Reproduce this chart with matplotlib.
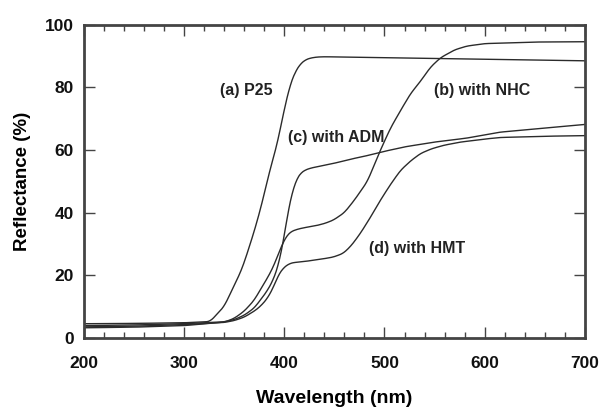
import matplotlib
matplotlib.use("Agg")
import matplotlib.pyplot as plt
from matplotlib.ticker import MultipleLocator
import numpy as np

plt.rcParams.update({
    "font.family": ["Liberation Sans", "DejaVu Sans"],
    "font.weight": "bold",
})

INK = "#2b2b2b"

# diffuse reflectance spectra (wavelength nm, reflectance %)
wl_a = [200, 250, 300, 326, 340, 356, 360, 370, 376, 380, 386, 393, 400, 406, 411, 416, 421, 425, 432, 440, 500, 600, 700]
r_a = [4.5, 4.6, 4.8, 5.2, 10.0, 20.7, 24.0, 34.0, 40.8, 46.0, 54.0, 62.0, 73.0, 81.0, 85.0, 87.5, 88.8, 89.3, 89.7, 89.8, 89.5, 89.0, 88.5]

wl_b = [200, 250, 300, 340, 350, 360, 370, 376, 383, 389, 395, 399, 403, 406, 412, 420, 430, 440, 449, 460, 470, 483, 496, 506, 516, 526, 536, 546, 556, 570, 582, 600, 650, 700]
r_b = [3.2, 3.4, 3.9, 5.0, 6.2, 8.5, 12.0, 15.3, 19.0, 22.6, 27.5, 30.6, 32.8, 33.8, 34.6, 35.2, 35.7, 36.5, 37.6, 40.0, 44.0, 50.0, 60.0, 67.0, 72.6, 78.0, 82.0, 86.5, 89.5, 92.0, 93.2, 94.0, 94.5, 94.6]

wl_c = [200, 250, 300, 340, 350, 360, 370, 376, 383, 389, 394, 398, 401, 404, 408, 412, 416, 420, 426, 435, 449, 465, 480, 496, 520, 549, 582, 615, 650, 700]
r_c = [3.9, 4.1, 4.5, 5.1, 5.8, 7.2, 9.5, 12.0, 15.0, 18.5, 23.0, 29.0, 34.5, 40.8, 46.5, 50.5, 52.5, 53.5, 54.2, 54.8, 55.7, 57.0, 58.0, 59.3, 61.0, 62.5, 63.8, 65.7, 66.7, 68.2]

wl_d = [200, 250, 300, 340, 350, 360, 370, 376, 383, 389, 394, 399, 403, 406, 410, 416, 425, 440, 449, 459, 467, 476, 486, 496, 506, 516, 526, 536, 547, 559, 575, 600, 615, 660, 700]
r_d = [3.5, 3.7, 4.2, 4.9, 5.5, 6.6, 8.5, 10.0, 12.5, 16.0, 20.0, 22.3, 23.3, 23.8, 24.1, 24.2, 24.6, 25.3, 25.8, 27.0, 29.5, 33.4, 38.5, 44.0, 49.0, 53.5, 56.5, 58.9, 60.4, 61.5, 62.5, 63.5, 64.0, 64.4, 64.6]

series = [(wl_a, r_a), (wl_b, r_b), (wl_c, r_c), (wl_d, r_d)]

# curve labels: text and centre position in data units
labels = ["(a) P25", "(b) with NHC", "(c) with ADM", "(d) with HMT"]
label_x = [362, 597, 452, 533]
label_y = [79, 79, 64, 28.6]

fig = plt.figure(figsize=(6.03, 4.07), dpi=100)
ax = fig.add_axes([0.139, 0.170, 0.831, 0.769])

for wl, r in series:
    # smooth the hand-read points a little for drawing
    xs = np.linspace(wl[0], wl[-1], 600)
    ys = np.interp(xs, wl, r)
    k = np.ones(9) / 9
    ys_s = np.convolve(np.pad(ys, 4, mode="edge"), k, mode="valid")
    ax.plot(xs, ys_s, color=INK, lw=1.0)

for t, x, y in zip(labels, label_x, label_y):
    ax.text(x, y, t, fontsize=11.5, fontweight="bold", color="#222222",
            ha="center", va="center")

ax.set_xlim(200, 700)
ax.set_ylim(0, 100)
ax.xaxis.set_major_locator(MultipleLocator(100))
ax.xaxis.set_minor_locator(MultipleLocator(20))
ax.yaxis.set_major_locator(MultipleLocator(20))

ax.tick_params(which="both", direction="in", top=True, right=True,
               color="#444444", labelsize=12.5, labelcolor="#111111")
ax.tick_params(which="major", length=8, width=1.0)
ax.tick_params(which="minor", length=4, width=1.0)
ax.tick_params(axis="x", which="major", pad=13)
ax.tick_params(axis="y", which="major", pad=7)
for lab in ax.get_xticklabels() + ax.get_yticklabels():
    lab.set_fontweight("bold")

for s in ax.spines.values():
    s.set_linewidth(2.0)
    s.set_color("#444444")

ax.set_xlabel("Wavelength (nm)", fontsize=14, fontweight="bold", labelpad=14)
ax.set_ylabel("Reflectance (%)", fontsize=13.5, fontweight="bold", labelpad=10)

fig.savefig("out.png", dpi=100, facecolor="white")
